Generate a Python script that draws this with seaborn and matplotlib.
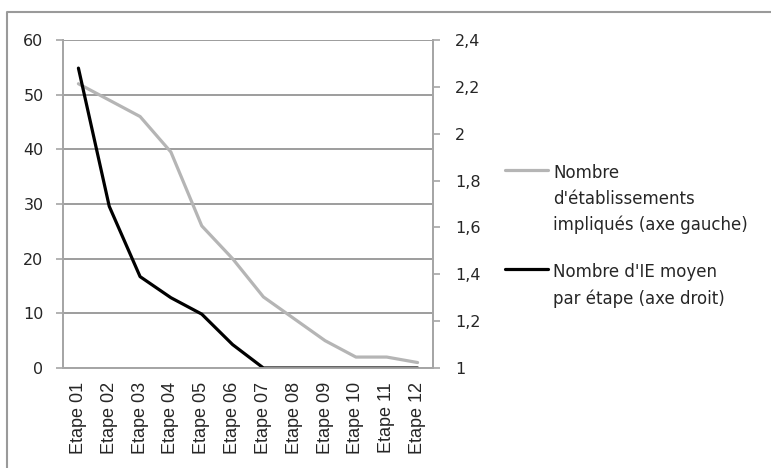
import matplotlib
matplotlib.use("Agg")
import matplotlib.pyplot as plt
import seaborn as sns

etapes = ["Etape 01", "Etape 02", "Etape 03", "Etape 04", "Etape 05", "Etape 06",
          "Etape 07", "Etape 08", "Etape 09", "Etape 10", "Etape 11", "Etape 12"]
etablissements = [52, 49, 46, 39.5, 26, 20, 13, 9, 5, 2, 2, 1]
ie_moyen = [2.28, 1.69, 1.39, 1.30, 1.23, 1.10, 1.0, 1.0, 1.0, 1.0, 1.0, 1.0]

left_ticks = [0, 10, 20, 30, 40, 50, 60]
right_ticks = [1.0, 1.2, 1.4, 1.6, 1.8, 2.0, 2.2, 2.4]
right_labels = ["1", "1,2", "1,4", "1,6", "1,8", "2", "2,2", "2,4"]
legend_labels = ["Nombre\nd'établissements\nimpliqués (axe gauche)",
                 "Nombre d'IE moyen\npar étape (axe droit)"]

sns.set_style("white")
plt.rcParams["font.family"] = ["DejaVu Sans"]

axis_grey = "#a6a6a6"
grid_grey = "#8c8c8c"
text_col = "#262626"

fig = plt.figure(figsize=(7.71, 4.68), dpi=100)
ax = fig.add_axes([63 / 771, 1 - 368 / 468, 370 / 771, 328 / 468])

sns.lineplot(x=etapes, y=etablissements, ax=ax, color="#b5b5b5", linewidth=2.3, sort=False)
ax2 = ax.twinx()
sns.lineplot(x=etapes, y=ie_moyen, ax=ax2, color="black", linewidth=2.3, sort=False)

ax.set_xlim(-0.5, 11.5)
ax.set_ylim(0, 60)
ax2.set_ylim(1, 2.4)
ax.set_xlabel("")
ax.set_ylabel("")
ax2.set_ylabel("")

ax.set_yticks(left_ticks)
ax.set_yticklabels([str(v) for v in left_ticks])
ax2.set_yticks(right_ticks)
ax2.set_yticklabels(right_labels)

ax.yaxis.grid(True, color=grid_grey, linewidth=1.2)
ax.set_axisbelow(True)

ax.set_xticks(range(len(etapes)))
ax.set_xticklabels(etapes, rotation=90, fontfamily="Liberation Sans", fontsize=13, color=text_col)
ax.set_xticks([i - 0.5 for i in range(len(etapes) + 1)], minor=True)
ax.tick_params(axis="x", which="major", length=0, pad=10)
ax.tick_params(axis="x", which="minor", length=4, width=1.2, color=axis_grey, direction="out")
ax.tick_params(axis="y", length=5, width=1.2, color=axis_grey, direction="out",
               labelsize=11.5, labelcolor=text_col, pad=9, left=True)
ax2.tick_params(axis="y", length=5, width=1.2, color=axis_grey, direction="out",
                labelsize=11.5, labelcolor=text_col, pad=11, right=True)

for a in (ax, ax2):
    a.spines["top"].set_visible(False)
    for s in ("left", "right", "bottom"):
        a.spines[s].set_color(axis_grey)
        a.spines[s].set_linewidth(1.3)

handles = [ax.lines[0], ax2.lines[0]]
leg = fig.legend(handles, legend_labels, loc="upper left",
                 bbox_to_anchor=(505 / 771, 1 - 164 / 468), frameon=False,
                 fontsize=12, handlelength=2.6, handletextpad=0.3,
                 borderpad=0, borderaxespad=0, labelspacing=1.75)
for t in leg.get_texts():
    t.set_linespacing(1.55)
    t.set_color(text_col)
for col in leg._legend_handle_box.get_children():
    for item in col.get_children():
        item.align = "top"

# chart frame, cut at right and bottom as in the source
fig.add_artist(plt.Line2D([7 / 771, 7 / 771, 1], [0, 1 - 12 / 468, 1 - 12 / 468],
                          transform=fig.transFigure, color="#9a9a9a", linewidth=1.5))

fig.savefig("out.png", dpi=100)
